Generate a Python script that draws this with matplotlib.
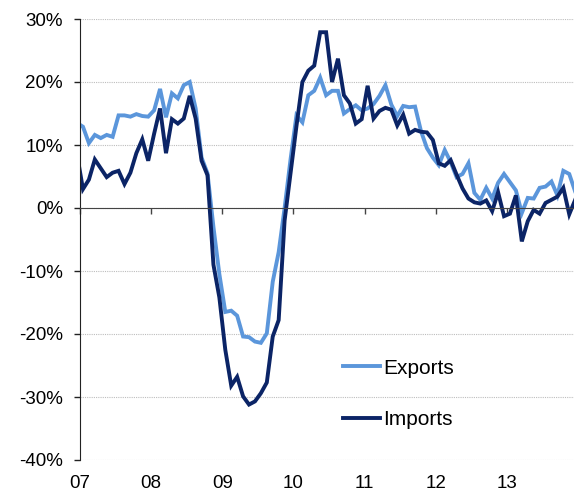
import matplotlib
matplotlib.use("Agg")
import matplotlib.pyplot as plt
import numpy as np

plt.rcParams['font.family'] = ['Liberation Sans', 'DejaVu Sans']

# monthly growth (% y/y), Dec 2006 .. Dec 2013
exports = [13.5,
           12.9, 10.3, 11.6, 11.1, 11.6, 11.3, 14.7, 14.7, 14.5, 14.9, 14.6, 14.5,
           15.5, 18.9, 14.4, 18.2, 17.4, 19.5, 20.0, 15.8, 8.0, 5.5, -3.0, -10.5,
           -16.5, -16.3, -17.1, -20.4, -20.5, -21.2, -21.4, -19.9, -11.7, -7.0, 0.0, 7.7,
           14.7, 13.6, 17.9, 18.6, 20.7, 17.9, 18.6, 18.6, 15.0, 15.7, 16.3, 15.5,
           15.8, 16.5, 17.8, 19.5, 16.4, 14.6, 16.2, 16.0, 16.1, 12.2, 9.5, 8.0,
           6.8, 9.2, 7.3, 4.9, 5.4, 7.1, 2.4, 1.3, 3.2, 1.5, 4.0, 5.4,
           4.1, 2.8, -0.8, 1.6, 1.5, 3.2, 3.4, 4.2, 2.0, 5.9, 5.4, 2.6]
imports = [8.5,
           3.0, 4.5, 7.7, 6.3, 4.9, 5.6, 5.9, 3.8, 5.6, 8.7, 10.9, 7.5,
           11.8, 15.8, 8.7, 14.1, 13.4, 14.2, 17.8, 14.2, 7.5, 5.2, -9.0, -14.2,
           -22.5, -28.2, -26.8, -29.9, -31.2, -30.7, -29.4, -27.7, -20.4, -17.8, -2.0, 5.5,
           13.0, 20.0, 21.8, 22.6, 27.9, 27.9, 20.0, 23.7, 17.9, 16.6, 13.4, 14.1,
           19.4, 14.2, 15.4, 15.9, 15.6, 13.1, 14.8, 11.8, 12.4, 12.1, 12.0, 10.8,
           7.1, 6.7, 7.6, 5.3, 3.1, 1.5, 0.9, 0.7, 1.2, -0.5, 2.5, -1.3,
           -0.9, 2.0, -5.3, -2.1, -0.3, -0.9, 0.8, 1.3, 1.8, 3.2, -1.0, 1.3]
year_labels = ['07', '08', '09', '10', '11', '12', '13']

# months counted from Jan 2007, points sit mid-month
x = np.arange(len(exports)) - 0.5

fig = plt.figure(figsize=(5.74, 4.95), dpi=100)
ax = fig.add_axes([80 / 574, 35 / 495, 494 / 574, 441 / 495])

ax.plot(x, exports, color='#5B96DB', lw=2.8, label='Exports', solid_joinstyle='miter')
ax.plot(x, imports, color='#0B2466', lw=2.8, label='Imports', solid_joinstyle='miter')

ax.set_xlim(0, 83.3)
ax.set_ylim(-40, 30)

# y axis
ax.set_yticks(np.arange(-40, 31, 10))
ax.set_yticklabels([f'{v}%' for v in range(-40, 31, 10)], fontsize=13.5)
ax.tick_params(axis='y', length=4.3, width=1, pad=8, color='#222222')
ax.yaxis.grid(True, color='#bdbdbd', linestyle=(0, (1, 1)), lw=0.8)
ax.set_axisbelow(True)

# x axis drawn at zero, labels at the bottom
ax.spines['top'].set_visible(False)
ax.spines['right'].set_visible(False)
ax.spines['left'].set_color('#222222')
ax.spines['bottom'].set_position(('data', 0))
ax.spines['bottom'].set_color('#444444')
ax.set_xticks(np.arange(0, 84, 12))
ax.tick_params(axis='x', length=4, width=1, color='#444444', labelbottom=False)

sec = ax.secondary_xaxis('bottom')
sec.spines['bottom'].set_visible(False)
sec.set_xticks(np.arange(0, 84, 12))
sec.set_xticklabels(year_labels, fontsize=13.5)
sec.tick_params(axis='x', length=0, pad=11)

ax.legend(loc='center left', bbox_to_anchor=(0.532, 0.150), frameon=False,
          fontsize=15, borderpad=0, borderaxespad=0, handlelength=1.8,
          handletextpad=0.15, labelspacing=1.55)

fig.savefig('out.png', dpi=100)
